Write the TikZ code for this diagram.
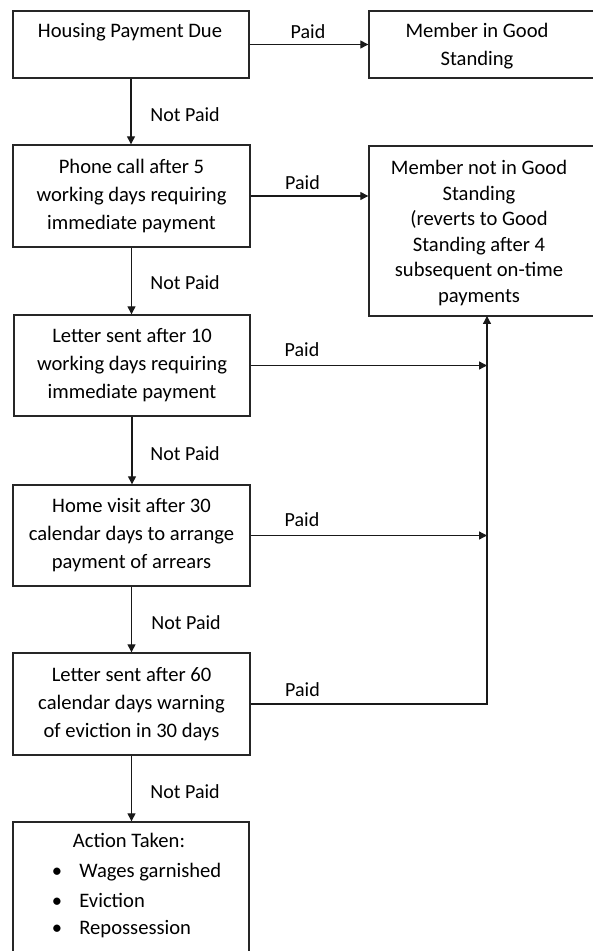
\documentclass[tikz,border=0pt]{standalone}
\usepackage{fontspec}
\setmainfont{Carlito}
\usetikzlibrary{arrows.meta}
\begin{document}
\begin{tikzpicture}[x=0.5pt,y=-0.5pt,
  box/.style={draw=black!85, line width=0.7pt, rectangle, inner sep=0pt, align=center,
    font=\fontsize{10.3}{14}\selectfont},
  txt/.style={inner sep=0pt, align=center, font=\fontsize{10.3}{14}\selectfont},
  item/.style={inner sep=0pt, text height=7.2pt, text depth=2.3pt, font=\fontsize{10.3}{14}\selectfont},
  lbl/.style={inner sep=0pt, font=\fontsize{10}{12}\selectfont},
  conn/.style={line width=0.65pt, draw=black!90, -{Triangle[length=4pt,width=4pt]}},
]
\useasboundingbox (0,0) rectangle (593,951);
\clip (0,0) rectangle (593,951);

% left column
\node[box, minimum width=118pt, minimum height=33.5pt] (b1) at (131,44.5) {};
\node[txt] (t1) at (130,32) {Housing Payment Due};
\node[box, minimum width=118.5pt, minimum height=51pt] (b2) at (131.5,196)
  {Phone call after 5\\working days requiring\\immediate payment};
\node[box, minimum width=118pt, minimum height=50.5pt] (b3) at (132,365.5)
  {Letter sent after 10\\working days requiring\\immediate payment};
\node[box, minimum width=118.5pt, minimum height=50.5pt] (b4) at (131.5,535.5)
  {Home visit after 30\\calendar days to arrange\\payment of arrears};
\node[box, minimum width=118.5pt, minimum height=51pt] (b5) at (131.5,704)
  {Letter sent after 60\\calendar days warning\\of eviction in 30 days};
\node[box, minimum width=118pt, minimum height=79pt] (b6) at (131,901) {};
\node[item] (t6) at (129,843) {Action Taken:};
\node[item] (bu1) at (57,873) {\textbullet};
\node[item] (bu2) at (57,903) {\textbullet};
\node[item] (bu3) at (57,930) {\textbullet};
\node[item, anchor=west] (i1) at (79,873) {Wages garnished};
\node[item, anchor=west] (i2) at (79,903) {Eviction};
\node[item, anchor=west] (i3) at (79,930) {Repossession};

% right column
\node[box, minimum width=125.5pt, minimum height=33.5pt] (m1) at (494.5,44.5) {};
\node[txt] (tm1) at (477,46) {Member in Good\\Standing};
\node[box, minimum width=125.5pt, minimum height=85pt] (m2) at (494.5,231) {};
\node[txt, font=\fontsize{10.3}{12.8}\selectfont] (tm2) at (479,233)
  {Member not in Good\\Standing\\(reverts to Good\\Standing after 4\\subsequent on-time\\payments};
\coordinate (top) at (487,316);

% Paid connectors
\draw[conn] (b1.east) -- (b1.east -| m1.west);
\draw[conn] (b2.east) -- (b2.east -| m2.west);
\draw[conn] (b3.east) -- (b3.east -| top);
\draw[conn] (b4.east) -- (b4.east -| top);
\draw[conn] (b5.east) -- (b5.east -| top) -- (top);

% Not Paid connectors
\draw[conn] (b1.south) -- (b1.south |- b2.north);
\draw[conn] (b2.south) -- (b2.south |- b3.north);
\draw[conn] (b3.south) -- (b3.south |- b4.north);
\draw[conn] (b4.south) -- (b4.south |- b5.north);
\draw[conn] (b5.south) -- (b5.south |- b6.north);

% labels
\node[lbl] (p1) at (308,32) {Paid};
\node[lbl] (p2) at (302.5,183) {Paid};
\node[lbl] (p3) at (302,350) {Paid};
\node[lbl] (p4) at (302,520) {Paid};
\node[lbl] (p5) at (302.5,690) {Paid};
\node[lbl, anchor=west] (n1) at (150,115) {Not Paid};
\node[lbl, anchor=west] (n2) at (150,283) {Not Paid};
\node[lbl, anchor=west] (n3) at (150,454) {Not Paid};
\node[lbl, anchor=west] (n4) at (151,623) {Not Paid};
\node[lbl, anchor=west] (n5) at (150,792) {Not Paid};
\end{tikzpicture}
\end{document}
